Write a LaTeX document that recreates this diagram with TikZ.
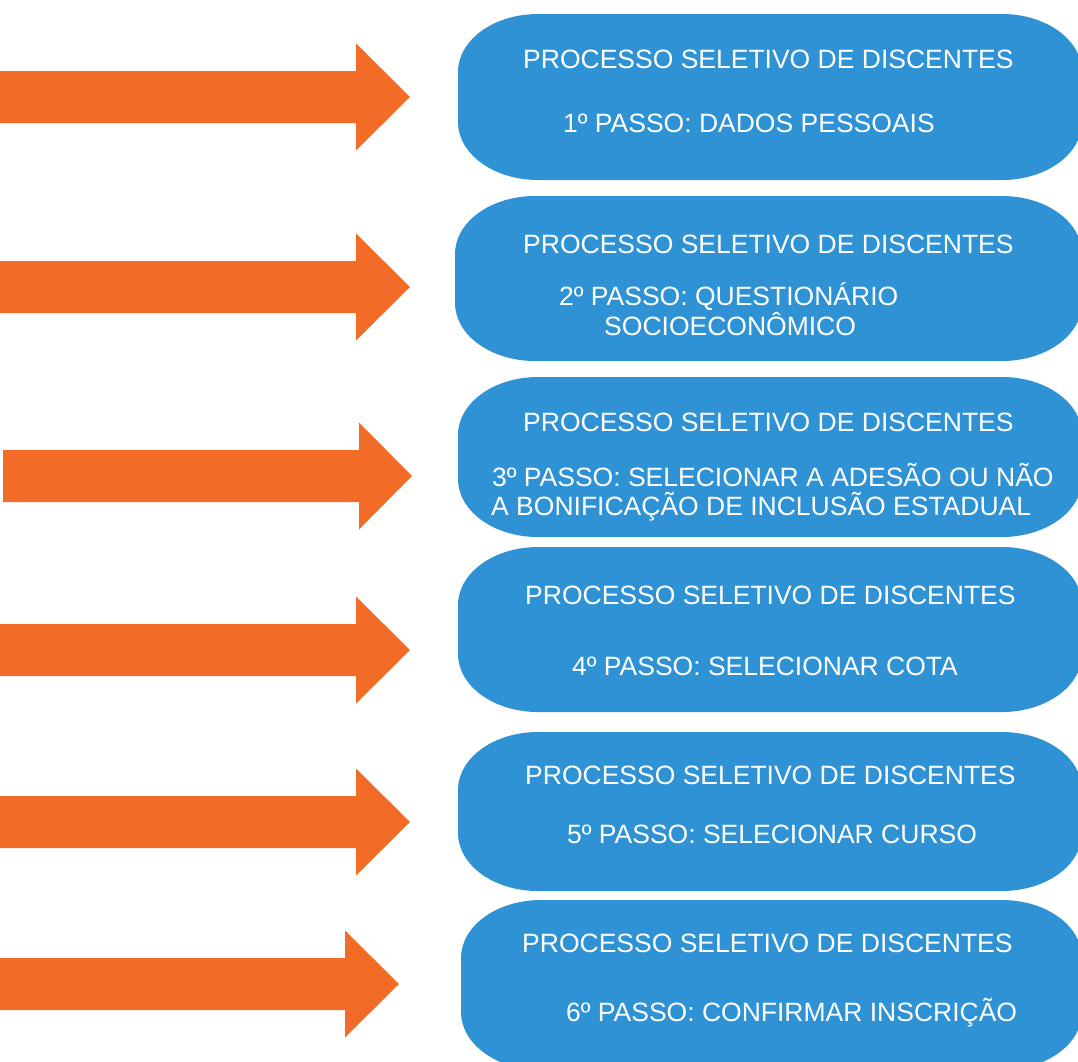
\documentclass[tikz,border=0pt]{standalone}
\usepackage{fontspec}
\setmainfont{Liberation Sans}
\usepackage{tikz}
\usetikzlibrary{positioning}
\definecolor{laranja}{RGB}{242,107,39}
\definecolor{azul}{RGB}{46,146,213}
\tikzset{
  rotulo/.style={
    text=white, anchor=base west, inner sep=0pt,
    font=\fontsize{26.5}{30}\selectfont,
  },
}
\begin{document}
\begin{tikzpicture}[x=1pt,y=-1pt]

      \useasboundingbox (0,0) rectangle (1078,1061);

      % #1 = inicio, #2 = base da ponta, #3 = ponta, #4 = centro
      \newcommand\seta[4]{
        \fill[laranja] (#1,#4-26) -- (#2,#4-26) -- (#2,#4-53.5) -- (#3,#4) -- (#2,#4+53.5) -- (#2,#4+26) -- (#1,#4+26) -- cycle;
      }
      % #1 = esquerda, #2 = topo, #3 = base
      \newcommand\caixa[3]{
        \fill[azul] (#1+80,#2) -- (1002,#2) arc[start angle=-90, end angle=0, x radius=80, y radius=58]
          -- (1082,#3-58) arc[start angle=0, end angle=90, x radius=80, y radius=58]
          -- (#1+80,#3) arc[start angle=90, end angle=180, x radius=80, y radius=58]
          -- (#1,#2+58) arc[start angle=180, end angle=270, x radius=80, y radius=58] -- cycle;
      }

      \seta{0}{356}{410}{97}    \caixa{458}{14}{180}
      \seta{0}{356}{410}{287}   \caixa{455}{196}{361}
      \seta{3}{359}{412}{476}   \caixa{458}{377}{537}
      \seta{0}{356}{410}{650}   \caixa{458}{547}{712}
      \seta{0}{356}{410}{822}   \caixa{458}{732}{891}
      \seta{0}{345}{399}{984}   \caixa{461}{900}{1070}

      \node[rotulo] (titulo1) at (523,68) {PROCESSO SELETIVO DE DISCENTES};
      \node[rotulo] (passo1) at (563,132) {1º PASSO: DADOS PESSOAIS};

      \node[rotulo] (titulo2) at (523,253) {PROCESSO SELETIVO DE DISCENTES};
      \node[rotulo] (passo2) at (559,305) {2º PASSO: QUESTIONÁRIO};
      \node[rotulo] (passo2b) at (604,335) {SOCIOECONÔMICO};

      \node[rotulo] (titulo3) at (523,431) {PROCESSO SELETIVO DE DISCENTES};
      \node[rotulo] (passo3) at (492,486) {3º PASSO: SELECIONAR A ADESÃO OU NÃO};
      \node[rotulo] (passo3b) at (491,515) {A BONIFICAÇÃO DE INCLUSÃO ESTADUAL};

      \node[rotulo] (titulo4) at (525,604) {PROCESSO SELETIVO DE DISCENTES};
      \node[rotulo] (passo4) at (572,675) {4º PASSO: SELECIONAR COTA};

      \node[rotulo] (titulo5) at (525,784) {PROCESSO SELETIVO DE DISCENTES};
      \node[rotulo] (passo5) at (567,843) {5º PASSO: SELECIONAR CURSO};

      \node[rotulo] (titulo6) at (522,952) {PROCESSO SELETIVO DE DISCENTES};
      \node[rotulo] (passo6) at (566,1021) {6º PASSO: CONFIRMAR INSCRIÇÃO};

    \end{tikzpicture}
\end{document}
